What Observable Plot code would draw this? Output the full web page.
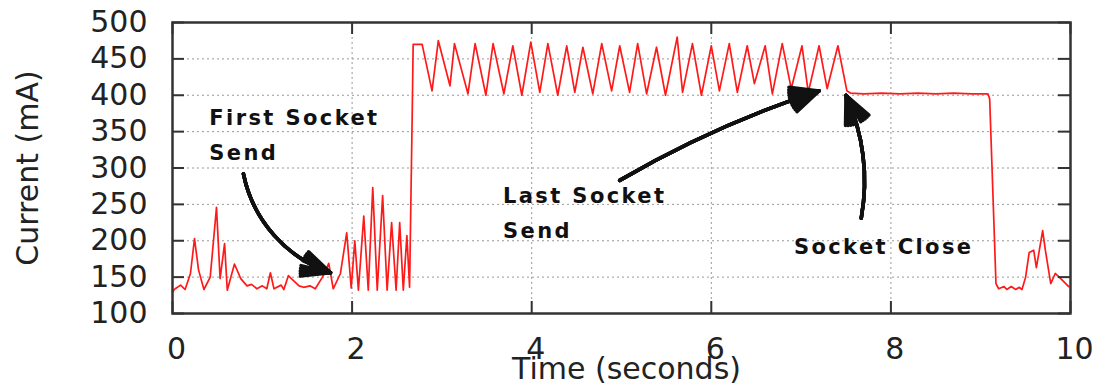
<!DOCTYPE html>
<html><head><meta charset="utf-8">
<script src="https://cdn.jsdelivr.net/npm/d3@7"></script>
<script src="https://cdn.jsdelivr.net/npm/@observablehq/plot@0.6"></script>
<style>
body{margin:0;background:#fff;}
g[font-weight="bold"] text, text[font-weight="bold"]{letter-spacing:2.4px;}
</style>
</head><body><div id="chart"></div>
<script>
// ---- data ----
const time = [
  0.00,0.03,0.09,0.14,0.20,0.245,0.29,0.35,0.42,0.49,0.53,0.58,0.61,0.69,0.76,0.83,0.88,0.94,1.00,1.05,
  1.09,1.13,1.21,1.24,1.29,1.35,1.41,1.46,1.53,1.59,1.67,1.74,1.79,1.87,1.94,1.99,2.03,2.07,2.13,2.18,
  2.23,2.28,2.34,2.39,2.44,2.49,2.53,2.57,2.61,2.64,
  2.67,2.68,2.78,2.89,2.96,3.09,3.14,3.29,3.37,3.49,3.57,3.69,3.79,3.89,3.99,4.09,4.18,4.29,4.39,4.48,
  4.57,4.68,4.78,4.89,4.98,5.09,5.18,5.28,5.39,5.49,5.62,5.68,5.79,5.89,6.00,6.09,6.20,6.29,6.40,6.48,
  6.60,6.68,6.79,6.89,7.01,7.08,7.20,7.29,7.41,7.51,
  7.55,7.70,7.90,8.10,8.30,8.50,8.70,8.90,9.08,
  9.10,9.14,9.17,9.20,9.26,9.29,9.34,9.39,9.43,9.46,9.50,9.54,9.59,9.62,9.69,9.72,9.78,9.83,9.90,9.98
];
const current = [
  130,134,139,133,155,203,160,133,150,246,148,196,132,168,148,138,140,134,138,134,
  156,134,139,133,152,145,138,136,138,134,150,169,134,155,211,135,200,132,234,132,
  273,132,262,132,225,132,225,132,207,136,
  379,470,470,406,475,413,471,402,471,400,471,402,468,400,473,404,471,400,468,404,
  466,402,471,406,468,404,471,402,466,400,480,404,471,400,468,406,471,404,468,416,
  468,402,471,409,468,404,468,409,468,406,
  403,402,403,402,403,402,403,402,402,
  395,250,141,134,137,133,137,133,136,133,150,184,187,163,214,187,141,155,147,137
];
const xTicks = [0, 2, 4, 6, 8, 10];
const yTicks = [100, 150, 200, 250, 300, 350, 400, 450, 500];
const xGrid = [2, 4, 6, 8];
const yGrid = [150, 200, 250, 300, 350, 400, 450];
const xTitle = "Time (seconds)";
const yTitle = "Current (mA)";
const notes = [
  {label: "First Socket\nSend", t: 0.41, v: 392.6},
  {label: "Last Socket\nSend", t: 3.68, v: 285.6},
  {label: "Socket Close", t: 6.92, v: 215.5}
];
const arrows = [
  {x1: 0.79, y1: 292, x2: 1.76, y2: 156, bend: -30},
  {x1: 4.98, y1: 283, x2: 7.20, y2: 406, bend: 6},
  {x1: 7.67, y1: 231, x2: 7.50, y2: 400, bend: -17}
];

const series = time.map((t, i) => ({t, v: current[i]}));
const W = 1094, H = 384, mL = 172, mR = 24, mT = 22, mB = 71;
const tickPx = 12;
const tickV = tickPx * 400 / (H - mT - mB);   // tick length in mA
const tickT = tickPx * 10 / (W - mL - mR);    // tick length in seconds

const arrowMarks = [];
for (const a of arrows) {
  for (const ang of [50, 40, 30, 20, 10]) {
    arrowMarks.push(Plot.arrow([a], {x1: "x1", y1: "y1", x2: "x2", y2: "y2", bend: a.bend,
      stroke: "#111", strokeWidth: 3.5, headLength: 13, headAngle: ang}));
  }
}

const chart = Plot.plot({
  width: W, height: H,
  marginLeft: mL, marginRight: mR, marginTop: mT, marginBottom: mB,
  x: {domain: [0, 10]},
  y: {domain: [100, 500]},
  style: {fontFamily: "DejaVu Sans", color: "#222", background: "#fff"},
  marks: [
    Plot.ruleX(xGrid, {x: d => d, stroke: "#999", strokeWidth: 1, strokeDasharray: "2,3"}),
    Plot.ruleY(yGrid, {y: d => d, stroke: "#999", strokeWidth: 1, strokeDasharray: "2,3"}),
    Plot.line(series, {x: "t", y: "v", stroke: "#ff1a1a", strokeWidth: 1.7}),
    Plot.ruleX(xTicks, {x: d => d, y1: 100, y2: 100 + tickV, stroke: "#333", strokeWidth: 2}),
    Plot.ruleX(xTicks, {x: d => d, y1: 500 - tickV, y2: 500, stroke: "#333", strokeWidth: 2}),
    Plot.ruleY(yTicks, {y: d => d, x1: 0, x2: tickT, stroke: "#333", strokeWidth: 2}),
    Plot.ruleY(yTicks, {y: d => d, x1: 10 - tickT, x2: 10, stroke: "#333", strokeWidth: 2}),
    Plot.frame({stroke: "#333", strokeWidth: 2.5}),
    ...arrowMarks,
    Plot.text(notes, {x: "t", y: "v", text: "label", textAnchor: "start", lineAnchor: "top",
      lineHeight: 1.667, fontSize: 21, fontWeight: "bold", fill: "#111"}),
    Plot.axisX(xTicks, {tickSize: 0, tickPadding: 24, fontSize: 30, label: null, dx: 4, fill: "#222"}),
    Plot.axisY(yTicks, {tickSize: 0, tickPadding: 25, fontSize: 30, label: null, fill: "#222"}),
    Plot.text([xTitle], {text: d => d, frameAnchor: "bottom", textAnchor: "middle", lineAnchor: "top", dy: 44, dx: 5, fontSize: 30, fill: "#222"}),
    Plot.text([yTitle], {text: d => d, frameAnchor: "left", textAnchor: "middle", rotate: -90, dx: -144, fontSize: 30, fill: "#222"})
  ]
});
document.getElementById("chart").appendChild(chart);
</script>
</body></html>
